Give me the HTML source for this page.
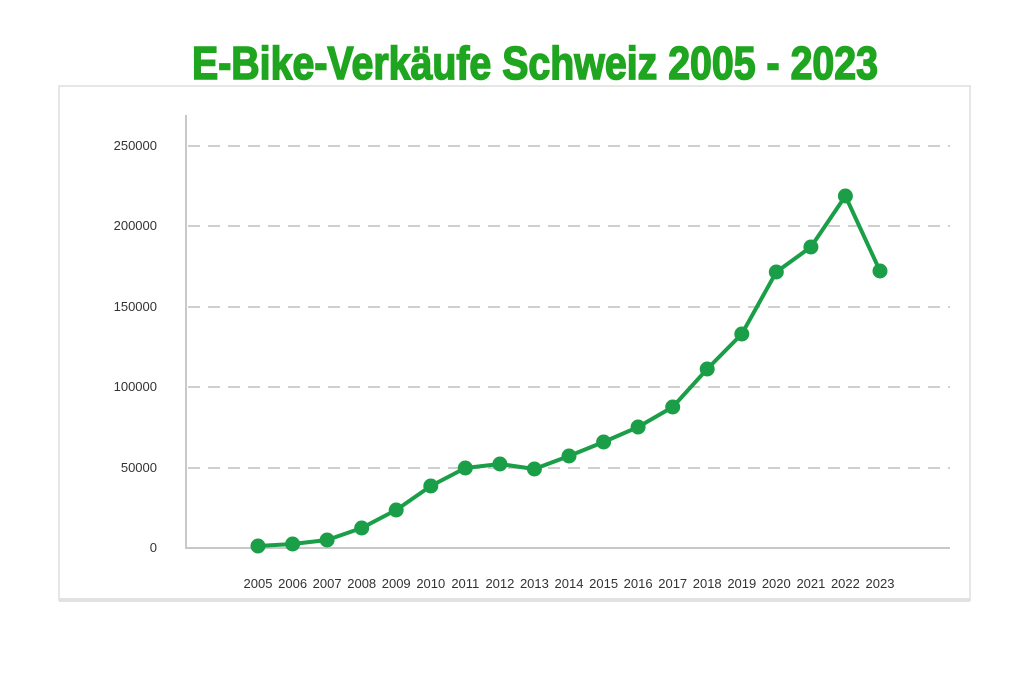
<!DOCTYPE html>
<html><head><meta charset="utf-8"><style>
html,body{margin:0;padding:0;background:#fff;width:1030px;height:687px;overflow:hidden}
</style></head><body>
<svg width="1030" height="687" xmlns="http://www.w3.org/2000/svg" font-family="Liberation Sans, sans-serif">
<text x="535" y="79" text-anchor="middle" font-family="Liberation Sans Narrow, Liberation Sans, sans-serif" font-weight="bold" font-size="46" fill="#1fa51f" stroke="#1fa51f" stroke-width="1.6" textLength="686" lengthAdjust="spacingAndGlyphs">E-Bike-Verkäufe Schweiz 2005 - 2023</text>
<rect x="59" y="86" width="911" height="514" fill="#fff" stroke="#e6e6e6" stroke-width="2"/>
<line x1="59" y1="600" x2="970" y2="600" stroke="#e2e2e2" stroke-width="4"/>
<g stroke="#cfcfcf" stroke-width="2" stroke-dasharray="12,8">
<line x1="188" y1="146" x2="950" y2="146"/><line x1="188" y1="226" x2="950" y2="226"/>
<line x1="188" y1="307" x2="950" y2="307"/><line x1="188" y1="387" x2="950" y2="387"/>
<line x1="188" y1="468" x2="950" y2="468"/>
</g>
<line x1="186" y1="115" x2="186" y2="549" stroke="#c8c8c8" stroke-width="2"/>
<line x1="186" y1="548" x2="950" y2="548" stroke="#c8c8c8" stroke-width="2"/>
<g font-size="13" fill="#333" text-anchor="end">
<text x="157" y="150">250000</text><text x="157" y="230">200000</text><text x="157" y="311">150000</text>
<text x="157" y="391">100000</text><text x="157" y="472">50000</text><text x="157" y="552">0</text>
</g>
<g font-size="13" fill="#333" text-anchor="middle">
<text x="258" y="588">2005</text><text x="292.6" y="588">2006</text><text x="327.1" y="588">2007</text><text x="361.7" y="588">2008</text><text x="396.2" y="588">2009</text><text x="430.8" y="588">2010</text><text x="465.3" y="588">2011</text><text x="499.9" y="588">2012</text><text x="534.4" y="588">2013</text><text x="569" y="588">2014</text><text x="603.6" y="588">2015</text><text x="638.1" y="588">2016</text><text x="672.7" y="588">2017</text><text x="707.2" y="588">2018</text><text x="741.8" y="588">2019</text><text x="776.3" y="588">2020</text><text x="810.9" y="588">2021</text><text x="845.4" y="588">2022</text><text x="880" y="588">2023</text>
</g>
<polyline fill="none" stroke="#1a9e47" stroke-width="4" stroke-linejoin="round" points="258,546 292.6,544 327.1,540 361.7,528 396.2,510 430.8,486 465.3,468 499.9,464 534.4,469 569,456 603.6,442 638.1,427 672.7,407 707.2,369 741.8,334 776.3,272 810.9,247 845.4,196 880,271"/>
<g fill="#1a9e47">
<circle cx="258" cy="546" r="7.5"/><circle cx="292.6" cy="544" r="7.5"/><circle cx="327.1" cy="540" r="7.5"/><circle cx="361.7" cy="528" r="7.5"/><circle cx="396.2" cy="510" r="7.5"/><circle cx="430.8" cy="486" r="7.5"/><circle cx="465.3" cy="468" r="7.5"/><circle cx="499.9" cy="464" r="7.5"/><circle cx="534.4" cy="469" r="7.5"/><circle cx="569" cy="456" r="7.5"/><circle cx="603.6" cy="442" r="7.5"/><circle cx="638.1" cy="427" r="7.5"/><circle cx="672.7" cy="407" r="7.5"/><circle cx="707.2" cy="369" r="7.5"/><circle cx="741.8" cy="334" r="7.5"/><circle cx="776.3" cy="272" r="7.5"/><circle cx="810.9" cy="247" r="7.5"/><circle cx="845.4" cy="196" r="7.5"/><circle cx="880" cy="271" r="7.5"/>
</g>
</svg>
</body></html>
